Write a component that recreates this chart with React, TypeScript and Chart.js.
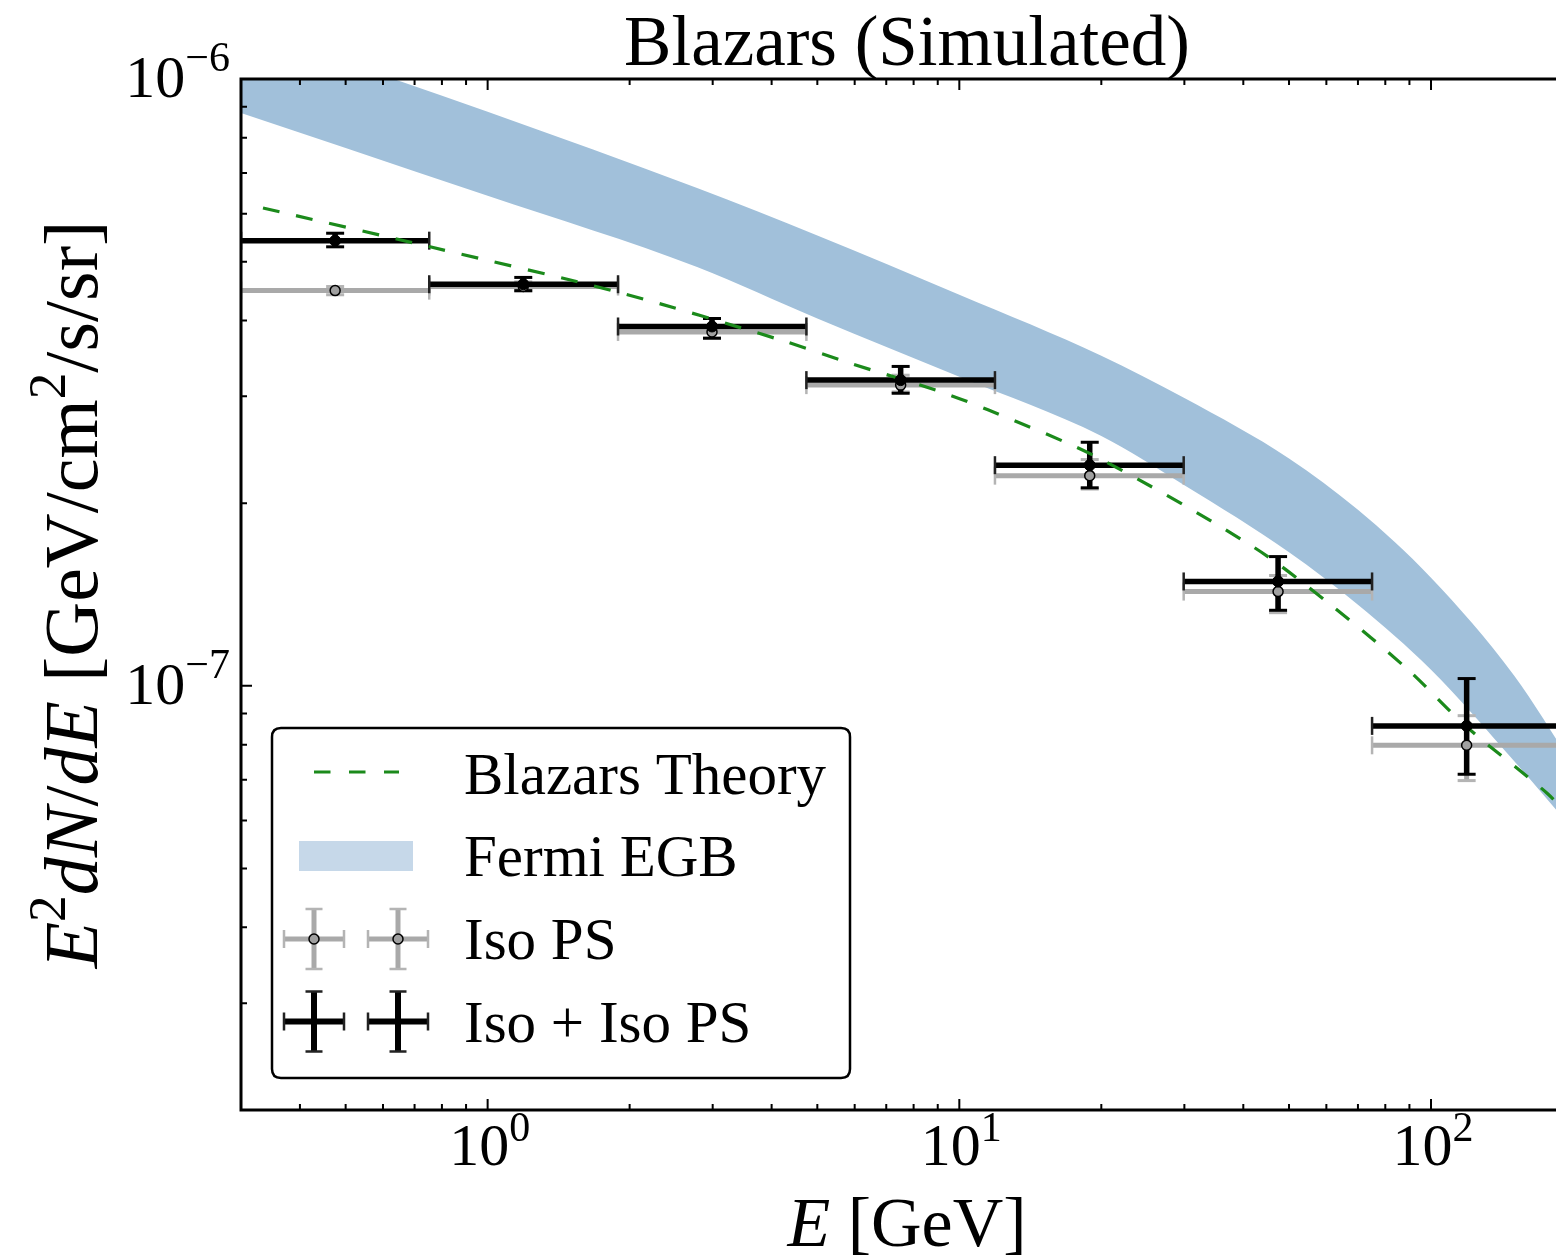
import React, { useEffect, useRef } from 'react';
import { Chart, registerables } from 'chart.js';

Chart.register(...registerables);

// ---------------- data ----------------
const binLo = [0.3, 0.752, 1.89, 4.74, 11.9, 29.9, 75.0];
const binHi = [0.752, 1.89, 4.74, 11.9, 29.9, 75.0, 188];
const binCenter = [0.475, 1.19, 2.99, 7.51, 18.9, 47.4, 119];

const isoPS = [4.48e-7, 4.55e-7, 3.83e-7, 3.13e-7, 2.22e-7, 1.43e-7, 7.98e-8];
const isoPSLo = [4.41e-7, 4.47e-7, 3.74e-7, 3.05e-7, 2.11e-7, 1.32e-7, 6.98e-8];
const isoPSHi = [4.55e-7, 4.63e-7, 3.92e-7, 3.25e-7, 2.36e-7, 1.52e-7, 8.93e-8];

const isoTotal = [5.415e-7, 4.59e-7, 3.91e-7, 3.19e-7, 2.31e-7, 1.486e-7, 8.59e-8];
const isoTotalLo = [5.29e-7, 4.48e-7, 3.74e-7, 3.035e-7, 2.12e-7, 1.332e-7, 7.15e-8];
const isoTotalHi = [5.57e-7, 4.71e-7, 4.03e-7, 3.36e-7, 2.52e-7, 1.633e-7, 1.028e-7];

const theoryE = [0.334, 0.755, 1.92, 4.18, 5.88, 9.03, 11.5, 19.6, 42.2, 62.0, 89.4, 119, 176, 200];
const theoryFlux = [6.13e-7, 5.29e-7, 4.44e-7, 3.715e-7, 3.4e-7, 3.06e-7, 2.85e-7, 2.38e-7, 1.69e-7, 1.35e-7, 1.063e-7, 8.56e-8, 6.66e-8, 6.0e-8];

const bandE = [0.3, 0.5, 1, 2.78, 5, 10, 20, 30, 50, 70, 100, 150, 200];
const bandLower = [8.79e-7, 7.7e-7, 6.42e-7, 4.9e-7, 4.03e-7, 3.23e-7, 2.58e-7, 2.14e-7, 1.66e-7, 1.36e-7, 1.063e-7, 7.52e-8, 5.8e-8];
const bandUpper = [1.24e-6, 1.067e-6, 8.83e-7, 6.61e-7, 5.52e-7, 4.41e-7, 3.5e-7, 2.98e-7, 2.37e-7, 1.95e-7, 1.507e-7, 1.04e-7, 7.4e-8];

const xMin = 0.3;
const xMax = 200;
const yMin = 2e-8;
const yMax = 1e-6;
const xTickPowers = [0, 1, 2];
const yTickPowers = [-7, -6];

const titleText = 'Blazars (Simulated)';
const legendLabels = ['Blazars Theory', 'Fermi EGB', 'Iso PS', 'Iso + Iso PS'];

// ---------------- styles ----------------
const FAMILY = '"Liberation Serif", "DejaVu Serif", serif';
const BAND = '#a1c0da';
const BAND_LEG = '#c6d8e9';
const GREEN = '#1b8a1b';
const GRAY = '#a9a9a9';
const GRAY_CAP = '#b4b4b4';
const CW = 1600;
const CH = 1260;

// ---------------- helpers ----------------
const zip = (xs: number[], ys: number[]) => xs.map((x, i) => ({ x, y: ys[i] }));
function hSegs(lo: number[], hi: number[], v: number[]) {
  const out: any[] = [];
  v.forEach((y, i) => out.push({ x: lo[i], y }, { x: hi[i], y }, { x: hi[i], y: null }));
  return out;
}
function vSegs(c: number[], lo: number[], hi: number[]) {
  const out: any[] = [];
  c.forEach((x, i) => out.push({ x, y: lo[i] }, { x, y: hi[i] }, { x, y: null }));
  return out;
}
function xCaps(lo: number[], hi: number[], v: number[]) {
  const out: any[] = [];
  v.forEach((y, i) => out.push({ x: lo[i], y }, { x: hi[i], y }));
  return out;
}
function yCaps(c: number[], lo: number[], hi: number[]) {
  const out: any[] = [];
  c.forEach((x, i) => out.push({ x, y: lo[i] }, { x, y: hi[i] }));
  return out;
}

type Seg = { t: string; it?: boolean; sup?: boolean };
function drawRich(
  ctx: CanvasRenderingContext2D,
  segs: Seg[],
  x: number,
  y: number,
  size: number,
  align: 'left' | 'center' | 'right',
  raise = size * 0.42,
  supScale = 0.7
) {
  const fontOf = (s: Seg) => `${s.it ? 'italic ' : ''}${s.sup ? size * supScale : size}px ${FAMILY}`;
  let w = 0;
  const widths = segs.map((s) => {
    ctx.font = fontOf(s);
    const m = ctx.measureText(s.t).width;
    w += m;
    return m;
  });
  let cx = align === 'center' ? x - w / 2 : align === 'right' ? x - w : x;
  ctx.textAlign = 'left';
  ctx.textBaseline = 'alphabetic';
  segs.forEach((s, i) => {
    ctx.font = fontOf(s);
    ctx.fillText(s.t, cx, s.sup ? y - raise : y);
    cx += widths[i];
  });
}

function errGlyph(ctx: CanvasRenderingContext2D, cx: number, cy: number, color: string, capColor: string, lw: number, marker: boolean) {
  ctx.save();
  ctx.lineCap = 'butt';
  ctx.strokeStyle = color;
  ctx.lineWidth = lw;
  ctx.beginPath();
  ctx.moveTo(cx - 30, cy);
  ctx.lineTo(cx + 30, cy);
  ctx.moveTo(cx, cy - 30);
  ctx.lineTo(cx, cy + 30);
  ctx.stroke();
  ctx.strokeStyle = capColor;
  ctx.lineWidth = 2.5;
  ctx.beginPath();
  ctx.moveTo(cx - 30, cy - 9);
  ctx.lineTo(cx - 30, cy + 9);
  ctx.moveTo(cx + 30, cy - 9);
  ctx.lineTo(cx + 30, cy + 9);
  ctx.moveTo(cx - 8.5, cy - 30);
  ctx.lineTo(cx + 8.5, cy - 30);
  ctx.moveTo(cx - 8.5, cy + 30);
  ctx.lineTo(cx + 8.5, cy + 30);
  ctx.stroke();
  if (marker) {
    ctx.beginPath();
    ctx.arc(cx, cy, 5, 0, Math.PI * 2);
    ctx.fillStyle = '#a0a0a0';
    ctx.fill();
    ctx.lineWidth = 1.5;
    ctx.strokeStyle = '#000';
    ctx.stroke();
  }
  ctx.restore();
}

// ---------------- plugins ----------------
const framePlugin = {
  id: 'frame',
  afterDatasetsDraw(chart: any) {
    const { ctx, chartArea: a, scales } = chart;
    const xs = scales.x;
    const ys = scales.y;
    ctx.save();
    ctx.strokeStyle = '#000';
    // ticks
    ctx.lineWidth = 2;
    ctx.beginPath();
    for (let k = -8; k <= -6; k++) {
      for (let m = 1; m <= 9; m++) {
        const v = m * Math.pow(10, k);
        if (v < yMin * 0.999 || v > yMax * 1.001) continue;
        const py = ys.getPixelForValue(v);
        const len = m === 1 ? 11 : 6;
        ctx.moveTo(a.left, py);
        ctx.lineTo(a.left + len, py);
        ctx.moveTo(a.right, py);
        ctx.lineTo(a.right - len, py);
      }
    }
    for (let k = -1; k <= 2; k++) {
      for (let m = 1; m <= 9; m++) {
        const v = m * Math.pow(10, k);
        if (v < xMin * 0.999 || v > xMax * 1.001) continue;
        const px = xs.getPixelForValue(v);
        const len = m === 1 ? 11 : 6;
        ctx.moveTo(px, a.bottom);
        ctx.lineTo(px, a.bottom - len);
        ctx.moveTo(px, a.top);
        ctx.lineTo(px, a.top + len);
      }
    }
    ctx.stroke();
    // spines
    ctx.lineWidth = 3;
    ctx.strokeRect(a.left, a.top, a.right - a.left, a.bottom - a.top);

    // tick labels
    ctx.fillStyle = '#000';
    yTickPowers.forEach((p) => {
      const py = ys.getPixelForValue(Math.pow(10, p));
      drawRich(ctx, [{ t: '10' }, { t: '\u2212' + String(-p), sup: true }], 230, py + 18, 60, 'right', 26, 0.7);
    });
    xTickPowers.forEach((p) => {
      const px = xs.getPixelForValue(Math.pow(10, p));
      drawRich(ctx, [{ t: '10' }, { t: String(p), sup: true }], px + 2, 1165, 60, 'center', 24, 0.7);
    });

    // axis labels
    drawRich(ctx, [{ t: 'E', it: true }, { t: ' [GeV]' }], (a.left + a.right) / 2, 1246, 70, 'center');
    ctx.save();
    ctx.translate(97, (a.top + a.bottom) / 2);
    ctx.rotate(-Math.PI / 2);
    drawRich(
      ctx,
      [
        { t: 'E', it: true },
        { t: '2', sup: true },
        { t: 'dN', it: true },
        { t: '/' },
        { t: 'dE', it: true },
        { t: ' [GeV/cm' },
        { t: '2', sup: true },
        { t: '/s/sr]' },
      ],
      0,
      0,
      76,
      'center'
    );
    ctx.restore();

    // title
    drawRich(ctx, [{ t: titleText }], (a.left + a.right) / 2, 65, 71, 'center');
    ctx.restore();
  },
  afterDraw(chart: any) {
    const { ctx } = chart;
    ctx.save();
    // legend frame
    const L = 272, T = 728, R = 850, B = 1078, r = 9;
    ctx.beginPath();
    ctx.moveTo(L + r, T);
    ctx.lineTo(R - r, T);
    ctx.quadraticCurveTo(R, T, R, T + r);
    ctx.lineTo(R, B - r);
    ctx.quadraticCurveTo(R, B, R - r, B);
    ctx.lineTo(L + r, B);
    ctx.quadraticCurveTo(L, B, L, B - r);
    ctx.lineTo(L, T + r);
    ctx.quadraticCurveTo(L, T, L + r, T);
    ctx.closePath();
    ctx.fillStyle = '#fff';
    ctx.fill();
    ctx.lineWidth = 2.5;
    ctx.strokeStyle = '#000';
    ctx.stroke();

    // theory
    ctx.save();
    ctx.strokeStyle = GREEN;
    ctx.lineWidth = 3;
    ctx.setLineDash([16.5, 18.5]);
    ctx.beginPath();
    ctx.moveTo(314, 772);
    ctx.lineTo(399, 772);
    ctx.stroke();
    ctx.restore();
    // band patch
    ctx.fillStyle = BAND_LEG;
    ctx.fillRect(299, 841, 114, 30);
    // errorbar glyphs
    errGlyph(ctx, 314, 939, GRAY, GRAY_CAP, 5, true);
    errGlyph(ctx, 398, 939, GRAY, GRAY_CAP, 5, true);
    errGlyph(ctx, 314, 1021.5, '#000', '#222', 6, false);
    errGlyph(ctx, 398, 1021.5, '#000', '#222', 6, false);

    ctx.fillStyle = '#000';
    const baselines = [794, 876, 959, 1042];
    legendLabels.forEach((t, i) => drawRich(ctx, [{ t }], 464, baselines[i], 59, 'left'));
    ctx.restore();
  },
};

// ---------------- component ----------------
export default function App() {
  const ref = useRef<HTMLCanvasElement>(null);
  useEffect(() => {
    const canvas = ref.current;
    if (!canvas) return;
    const noPts = { pointRadius: 0, pointHoverRadius: 0 };
    const datasets: any[] = [
      {
        label: 'Fermi EGB upper',
        data: zip(bandE, bandUpper),
        borderWidth: 0,
        borderColor: BAND,
        backgroundColor: BAND,
        fill: '+1',
        cubicInterpolationMode: 'monotone',
        order: 20,
        ...noPts,
      },
      {
        label: 'Fermi EGB lower',
        data: zip(bandE, bandLower),
        borderWidth: 0,
        borderColor: BAND,
        fill: false,
        cubicInterpolationMode: 'monotone',
        order: 19,
        ...noPts,
      },
      // Iso PS (gray)
      { label: 'isoPS h', data: hSegs(binLo, binHi, isoPS), borderColor: GRAY, borderWidth: 5, fill: false, order: 18, ...noPts },
      { label: 'isoPS v', data: vSegs(binCenter, isoPSLo, isoPSHi), borderColor: GRAY, borderWidth: 5, fill: false, order: 17, ...noPts },
      {
        label: 'isoPS xcaps', data: xCaps(binLo, binHi, isoPS), showLine: false, pointStyle: 'line', pointRotation: 90,
        pointRadius: 9, pointBorderWidth: 2.5, pointBorderColor: GRAY_CAP, order: 16,
      },
      {
        label: 'isoPS ycaps', data: yCaps(binCenter, isoPSLo, isoPSHi), showLine: false, pointStyle: 'line', pointRotation: 0,
        pointRadius: 9, pointBorderWidth: 3, pointBorderColor: GRAY_CAP, order: 15,
      },
      // Iso + Iso PS (black)
      { label: 'tot h', data: hSegs(binLo, binHi, isoTotal), borderColor: '#000', borderWidth: 5.5, fill: false, order: 14, ...noPts },
      { label: 'tot v', data: vSegs(binCenter, isoTotalLo, isoTotalHi), borderColor: '#000', borderWidth: 5.5, fill: false, order: 13, ...noPts },
      {
        label: 'tot xcaps', data: xCaps(binLo, binHi, isoTotal), showLine: false, pointStyle: 'line', pointRotation: 90,
        pointRadius: 9, pointBorderWidth: 2.5, pointBorderColor: '#222', order: 12,
      },
      {
        label: 'tot ycaps', data: yCaps(binCenter, isoTotalLo, isoTotalHi), showLine: false, pointStyle: 'line', pointRotation: 0,
        pointRadius: 9, pointBorderWidth: 3, pointBorderColor: '#000', order: 11,
      },
      // theory
      {
        label: 'Blazars Theory', data: zip(theoryE, theoryFlux), borderColor: GREEN, borderWidth: 3.2,
        borderDash: [17, 17], fill: false, tension: 0.3, order: 10, ...noPts,
      },
      // markers
      {
        label: 'isoPS markers', data: zip(binCenter, isoPS), showLine: false, pointStyle: 'circle',
        pointRadius: 5, pointBackgroundColor: '#a0a0a0', pointBorderColor: '#000', pointBorderWidth: 1.5, order: 9,
      },
      {
        label: 'tot markers', data: zip(binCenter, isoTotal), showLine: false, pointStyle: 'circle',
        pointRadius: 5.5, pointBackgroundColor: '#000', pointBorderColor: '#000', pointBorderWidth: 1, order: 8,
      },
    ];
    const chart = new Chart(canvas, {
      type: 'line',
      data: { datasets },
      options: {
        responsive: false,
        animation: false,
        devicePixelRatio: 1,
        events: [],
        layout: { padding: { left: 241, top: 79, right: CW - 1573, bottom: CH - 1110 } },
        plugins: { legend: { display: false }, title: { display: false }, tooltip: { enabled: false } },
        scales: {
          x: { type: 'logarithmic', min: xMin, max: xMax, display: false },
          y: { type: 'logarithmic', min: yMin, max: yMax, display: false },
        },
      } as any,
      plugins: [framePlugin as any],
    });
    return () => chart.destroy();
  }, []);
  return (
    <div style={{ position: 'fixed', left: 0, top: 0, width: 1556, height: 1260, overflow: 'hidden', background: '#fff' }}>
      <canvas ref={ref} width={CW} height={CH} style={{ display: 'block', width: CW, height: CH }} />
    </div>
  );
}
